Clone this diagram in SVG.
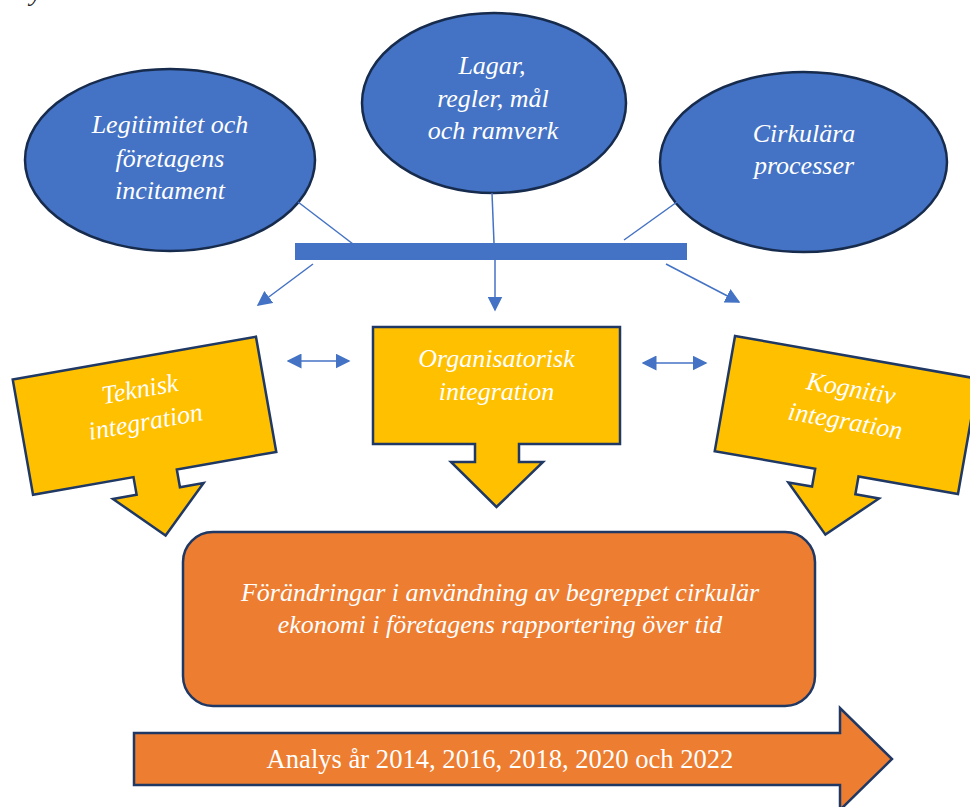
<svg xmlns="http://www.w3.org/2000/svg" width="970" height="807" viewBox="0 0 970 807">
  <style>
    .ell { fill: #4472C4; stroke: #172B4D; stroke-width: 2.5; }
    .call { fill: #FFC000; stroke: #1F3864; stroke-width: 2.5; stroke-linejoin: miter; }
    .org { fill: #ED7D31; stroke: #1F3864; stroke-width: 2.5; }
    .t { font-family: "Liberation Serif", "Times New Roman", serif; font-style: italic; font-size: 26px; fill: #FFFFFF; text-anchor: middle; }
    .tn { font-family: "Liberation Serif", "Times New Roman", serif; font-size: 26.6px; fill: #FFFFFF; text-anchor: middle; }
    .ln { stroke: #4472C4; stroke-width: 1.5; fill: none; }
  </style>
  <defs>
    <marker id="ah2" viewBox="0 0 10 10" refX="9" refY="5" markerWidth="15" markerHeight="15" markerUnits="userSpaceOnUse" orient="auto-start-reverse">
      <path d="M0,0 L10,5 L0,10 Z" fill="#4472C4"/>
    </marker>
    <path id="callout" d="M -123.5,-58.5 H 123.5 V 58.5 H 22.5 V 76.5 H 46.5 L 0,121.5 L -45.5,76.5 H -21.5 V 58.5 H -123.5 Z"/>
  </defs>

  <text x="30" y="0.5" font-family="Liberation Serif, Times New Roman, serif" font-style="italic" font-size="26" fill="#222222">y</text>

  <g id="legitimitet">
    <ellipse class="ell" cx="170" cy="160" rx="145" ry="91"/>
    <text class="t" x="170" y="133" font-size="26.5">Legitimitet och</text>
    <text class="t" x="170" y="167" font-size="26.5">företagens</text>
    <text class="t" x="170" y="199" font-size="26.5">incitament</text>
  </g>

  <g id="lagar">
    <ellipse class="ell" cx="494" cy="103" rx="132" ry="90"/>
    <text class="t" x="492" y="74" font-size="26.5">Lagar,</text>
    <text class="t" x="493" y="107" font-size="26.5">regler, mål</text>
    <text class="t" x="493" y="139" font-size="26.5">och ramverk</text>
  </g>

  <g id="cirkulara">
    <ellipse class="ell" cx="803.5" cy="162" rx="143.5" ry="90"/>
    <text class="t" x="804" y="142" font-size="26.5">Cirkulära</text>
    <text class="t" x="804" y="174" font-size="26.5">processer</text>
  </g>

  <g id="bar">
    <rect x="295" y="243" width="392" height="17" fill="#4472C4"/>
  </g>

  <g id="connectors">
    <line class="ln" x1="298" y1="202" x2="353" y2="244"/>
    <line class="ln" x1="492" y1="193" x2="494" y2="243"/>
    <line class="ln" x1="677" y1="202" x2="624" y2="240"/>
    <line class="ln" x1="313" y1="264" x2="258" y2="305" marker-end="url(#ah2)"/>
    <line class="ln" x1="495" y1="260" x2="495" y2="310" marker-end="url(#ah2)"/>
    <line class="ln" x1="666" y1="264" x2="739" y2="302" marker-end="url(#ah2)"/>
    <line class="ln" x1="288" y1="361" x2="349" y2="361" marker-start="url(#ah2)" marker-end="url(#ah2)"/>
    <line class="ln" x1="643" y1="363" x2="706" y2="363" marker-start="url(#ah2)" marker-end="url(#ah2)"/>
  </g>

  <g id="teknisk" transform="translate(144.5,415.75) rotate(-10)">
    <use href="#callout" class="call"/>
    <text class="t" x="0" y="-18.5">Teknisk</text>
    <text class="t" x="0" y="14.5">integration</text>
  </g>

  <g id="organisatorisk" transform="translate(496.5,385.5)">
    <use href="#callout" class="call"/>
    <text class="t" x="0" y="-18.5">Organisatorisk</text>
    <text class="t" x="0" y="14.5">integration</text>
  </g>

  <g id="kognitiv" transform="translate(846.5,415) rotate(10)">
    <use href="#callout" class="call"/>
    <text class="t" x="0" y="-18.5">Kognitiv</text>
    <text class="t" x="0" y="14.5">integration</text>
  </g>

  <g id="forandringar">
    <rect class="org" x="183" y="532" width="632" height="174" rx="30" ry="30"/>
    <text class="t" x="500" y="601" font-size="26.8">Förändringar i användning av begreppet cirkulär</text>
    <text class="t" x="500" y="633" font-size="26.8">ekonomi i företagens rapportering över tid</text>
  </g>

  <g id="analys">
    <polygon class="org" points="134,733 840,733 840,708 892,759 840,810 840,785 134,785"/>
    <text class="tn" x="500" y="768">Analys år 2014, 2016, 2018, 2020 och 2022</text>
  </g>
</svg>
